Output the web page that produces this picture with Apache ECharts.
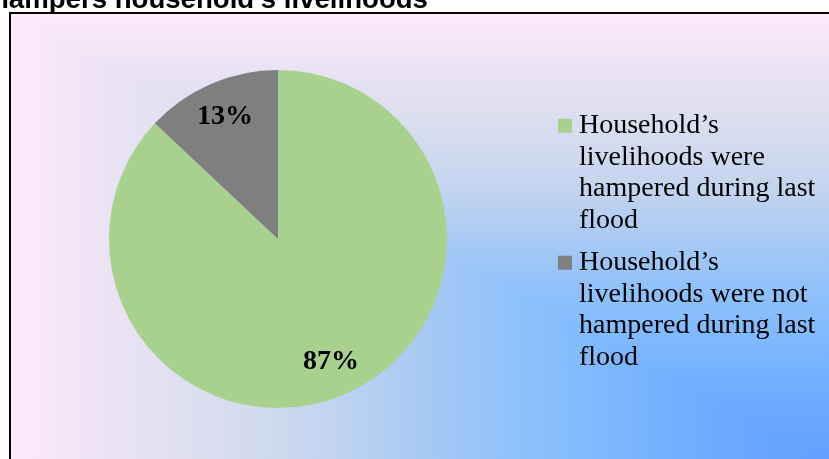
<!DOCTYPE html>
<html>
<head>
<meta charset="utf-8">
<script src="https://cdn.jsdelivr.net/npm/echarts@6/dist/echarts.min.js"></script>
<style>
  html, body { margin: 0; padding: 0; background: #ffffff; }
  #chart { width: 829px; height: 459px; }
</style>
</head>
<body>
<div id="chart"></div>
<script>
// Chart content
const titleText = 'hampers household’s livelihoods';
const categories = [
  'Household’s livelihoods were hampered during last flood',
  'Household’s livelihoods were not hampered during last flood'
];
const shares = [87, 13];
const sliceColors = ['#a9d18e', '#7f7f7f'];

// Panel fill: pink at the top/left edges fading to blue at the lower-right corner
const panelStops = [
  [0.00, '#fdeafa'],
  [0.12, '#ebe3f4'],
  [0.25, '#d9ddef'],
  [0.38, '#c3d5ef'],
  [0.50, '#a6c9f4'],
  [0.60, '#90c2fb'],
  [0.70, '#80bafe'],
  [0.80, '#73affe'],
  [0.90, '#68a6fe'],
  [1.00, '#5f9ffe']
];

const legendFont = '28px "Liberation Serif"';
const legendWrapWidth = 245;

// Greedy word wrap using the browser's own text metrics
const measureCtx = document.createElement('canvas').getContext('2d');
measureCtx.font = legendFont;
function wrapWords(text, maxWidth) {
  const words = text.split(' ');
  const lines = [];
  let cur = '';
  words.forEach(w => {
    const trial = cur ? cur + ' ' + w : w;
    if (cur && measureCtx.measureText(trial).width > maxWidth) {
      lines.push(cur);
      cur = w;
    } else {
      cur = trial;
    }
  });
  if (cur) lines.push(cur);
  return lines;
}

const stops = panelStops.map(s => ({ offset: s[0], color: s[1] }));
const panel = { x: 10, y: 13, right: 842, bottom: 472 };

const chart = echarts.init(document.getElementById('chart'), null, { renderer: 'canvas' });

const legendRich = {
  gp: { width: 7, height: 14 },
  ind: { width: 21, height: 14 },
  t: { fontFamily: 'Liberation Serif', fontSize: 28, lineHeight: 31.5, color: '#000000' }
};
sliceColors.forEach((c, i) => {
  legendRich['sq' + i] = { width: 14, height: 14, backgroundColor: c, lineHeight: 31.5 };
});

const option = {
  animation: false,
  color: sliceColors,
  graphic: [
    {
      type: 'rect',
      z: -10,
      silent: true,
      shape: { x: panel.x, y: panel.y, width: panel.right - panel.x, height: panel.bottom - panel.y },
      style: { fill: new echarts.graphic.LinearGradient(0, 0, 1, 0, stops) }
    },
    {
      type: 'polygon',
      z: -9,
      silent: true,
      shape: { points: [[panel.x, panel.y], [panel.right, panel.y], [panel.right, panel.bottom]] },
      style: { fill: new echarts.graphic.LinearGradient(0, 0, 0, 1, stops) }
    },
    {
      type: 'rect',
      z: -8,
      silent: true,
      shape: { x: panel.x, y: panel.y, width: panel.right - panel.x, height: panel.bottom - panel.y },
      style: { fill: 'none', stroke: '#000000', lineWidth: 2 }
    },
    {
      type: 'text',
      z: -7,
      silent: true,
      style: {
        text: titleText,
        x: -8,
        y: 14,
        verticalAlign: 'bottom',
        font: 'bold 27.6px "Liberation Sans"',
        fill: '#000000'
      }
    }
  ],
  legend: {
    orient: 'vertical',
    left: 553,
    top: 110,
    padding: 0,
    itemGap: 11,
    itemWidth: 0,
    itemHeight: 14,
    icon: 'none',
    selectedMode: false,
    data: categories,
    textStyle: { fontFamily: 'Liberation Serif', fontSize: 28, lineHeight: 31.5, color: '#000000', rich: legendRich },
    formatter: name => {
      const i = categories.indexOf(name);
      return wrapWords(name, legendWrapWidth)
        .map((ln, k) => (k === 0 ? '{sq' + i + '|}{gp|}' : '{ind|}') + '{t|' + ln + '}')
        .join('\n');
    }
  },
  series: [
    {
      name: 'slices',
      type: 'pie',
      center: [278, 239],
      radius: [0, 169],
      startAngle: 90,
      clockwise: true,
      silent: true,
      label: { show: false },
      labelLine: { show: false },
      itemStyle: { borderWidth: 0 },
      data: categories.map((n, i) => ({ name: n, value: shares[i] }))
    },
    {
      name: 'labels',
      type: 'pie',
      center: [278, 239],
      radius: [92, 169],
      startAngle: 90,
      clockwise: true,
      silent: true,
      itemStyle: { color: 'rgba(0,0,0,0)', borderWidth: 0 },
      labelLine: { show: false },
      label: {
        show: true,
        position: 'inside',
        formatter: p => p.value + '%',
        fontFamily: 'Liberation Serif',
        fontWeight: 'bold',
        fontSize: 28,
        color: '#000000'
      },
      data: categories.map((n, i) => ({ name: n, value: shares[i] }))
    }
  ]
};

chart.setOption(option);
</script>
</body>
</html>
